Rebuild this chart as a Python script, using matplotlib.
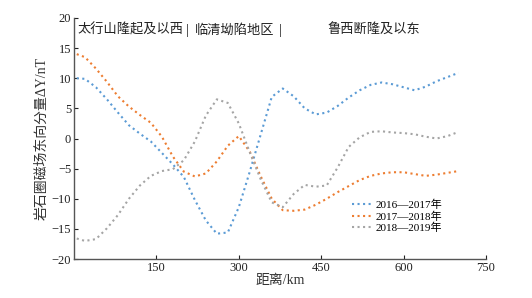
import matplotlib
matplotlib.use("Agg")
import matplotlib.pyplot as plt

plt.rcParams["font.family"] = ["Liberation Serif", "Noto Sans CJK SC"]

# distance along profile (km)
distance = [5, 20, 40, 60, 80, 100, 120, 140, 160, 180, 200, 220, 240, 260,
            280, 300, 320, 340, 360, 380, 400, 420, 440, 460, 480, 500, 520,
            540, 560, 580, 600, 620, 640, 660, 680, 700]

dy_2016_2017 = [10.0, 9.9, 8.5, 6.5, 4.3, 2.2, 0.8, -0.5, -2.4, -4.3, -6.4,
                -10.2, -13.6, -15.8, -15.6, -11.4, -5.5, 0.7, 6.9, 8.3, 7.0,
                5.0, 4.0, 4.3, 5.4, 6.8, 8.0, 8.9, 9.3, 9.0, 8.5, 8.0, 8.6,
                9.5, 10.2, 10.9]

dy_2017_2018 = [14.0, 13.5, 11.6, 9.4, 7.0, 5.3, 3.9, 2.6, 0.3, -3.0, -5.5,
                -6.3, -5.8, -3.8, -1.2, 0.4, -2.2, -6.3, -10.0, -11.9, -12.0,
                -11.8, -11.0, -10.0, -8.9, -7.9, -6.9, -6.2, -5.8, -5.6, -5.6,
                -5.9, -6.2, -6.0, -5.7, -5.4]

dy_2018_2019 = [-16.6, -17.0, -16.7, -14.9, -12.7, -10.0, -7.8, -6.2, -5.4,
                -5.1, -3.6, -0.5, 3.8, 6.5, 5.9, 2.5, -2.3, -6.8, -10.6, -11.4,
                -9.2, -7.7, -8.0, -7.8, -4.8, -1.4, 0.2, 1.1, 1.2, 1.0, 0.9,
                0.7, 0.3, 0.0, 0.4, 1.1]

series = [
    ("2016—2017年", dy_2016_2017, "#5b9bd5"),
    ("2017—2018年", dy_2017_2018, "#ed7d31"),
    ("2018—2019年", dy_2018_2019, "#a5a5a5"),
]

x_ticks = [150, 300, 450, 600, 750]
y_ticks = [-20, -15, -10, -5, 0, 5, 10, 15, 20]

fig = plt.figure(figsize=(5.32, 2.98), dpi=100)
ax = fig.add_axes([74 / 532, 39 / 298, 412 / 532, 241 / 298])

for label, vals, color in series:
    ax.plot(distance, vals, linestyle=":", linewidth=1.5, color=color, label=label)

ax.set_xlim(0, 750)
ax.set_ylim(-20, 20)
ax.set_xticks(x_ticks)
ax.set_yticks(y_ticks)
ax.tick_params(direction="in", length=3, width=0.8, labelsize=9, colors="#222222",
               pad=2)

for side in ("top", "right"):
    ax.spines[side].set_visible(False)
for side in ("left", "bottom"):
    ax.spines[side].set_color("#555555")
    ax.spines[side].set_linewidth(1.0)

ax.set_xlabel("距离/km", fontsize=10, color="#333333", labelpad=0)
ax.set_ylabel("岩石圈磁场东向分量ΔY/nT", fontsize=10, color="#333333", labelpad=2)

# region labels along the top
ax.text(7, 18.0, "太行山隆起及以西", fontsize=9.5, va="center", ha="left", color="#222222")
ax.text(206, 18.0, "|", fontsize=10, va="center", ha="center", color="#222222")
ax.text(220, 18.0, "临清坳陷地区", fontsize=9.5, va="center", ha="left", color="#222222")
ax.text(376, 18.0, "|", fontsize=10, va="center", ha="center", color="#222222")
ax.text(462, 18.0, "鲁西断隆及以东", fontsize=9.5, va="center", ha="left", color="#222222")

ax.legend(loc="upper left", bbox_to_anchor=(352 / 532, 1 - 200 / 298),
          bbox_transform=fig.transFigure, frameon=False, fontsize=8,
          handlelength=1.7, handletextpad=0.45, labelspacing=0.08,
          borderpad=0, borderaxespad=0)

fig.savefig("out.png", dpi=100)
